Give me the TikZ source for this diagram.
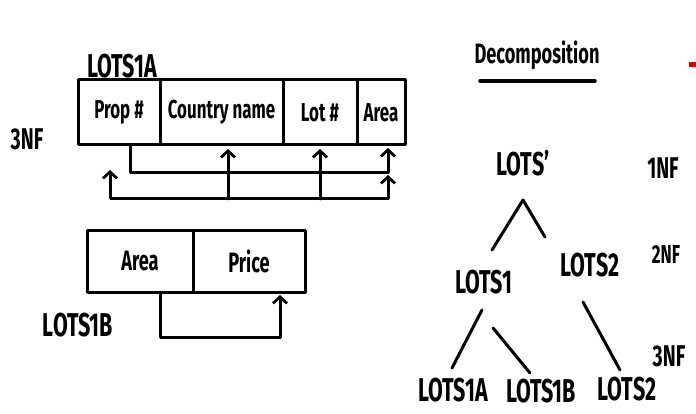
\documentclass[tikz,border=0pt]{standalone}
\usepackage{fontspec}
\setmainfont{Fira Sans}[FakeStretch=0.65]
\usetikzlibrary{arrows.meta,calc}
\newcommand{\hfs}[1]{\fontsize{#1}{#1}\selectfont\bfseries}
\begin{document}
\begin{tikzpicture}[x=1pt,y=-1pt,
  ink/.style={line width=3pt, line cap=round, line join=round},
  cell/.style={draw, ink, anchor=north west, outer sep=0pt, minimum height=65pt, inner sep=0pt, font=\hfs{26}},
  cellb/.style={cell, minimum height=61pt, font=\hfs{28}},
  lbl/.style={inner sep=1pt, font=\hfs{33}},
  nf/.style={inner sep=1pt, font=\hfs{30}},
  tip/.tip={Straight Barb[length=6.5pt,width=14pt,line width=2.8pt]},
  arr/.style={ink, -tip},
  arrboth/.style={ink, tip-tip},
]
\useasboundingbox (0,0) rectangle (696,414);

% ---- LOTS1A table ----
\node[lbl] (t1a) at (122,66) {LOTS1A};
\node[nf] (nf3a) at (27,139) {3NF};
\node[cell, minimum width=82pt] (c1) at (78,80) {Prop \#};
\node[cell, minimum width=123pt] (c2) at (c1.north east) {Country name};
\node[cell, minimum width=74pt] (c3) at (c2.north east) {Lot \#};
\node[cell, minimum width=48pt] (c4) at (c3.north east) {Area};

\coordinate (l1) at (0,173);
\coordinate (l2) at (0,199);
\coordinate (q) at (110,170);

\draw[arr, shorten >=3pt] ([xshift=11pt]c1.south) -- ([xshift=11pt]c1.south |- l1) -| ([xshift=7pt]c4.south);
\draw[arr, shorten >=4pt] ([xshift=6.5pt]c2.south |- l2) -- ([xshift=6.5pt]c2.south);
\draw[arr, shorten >=4pt] (c3.south |- l2) -- (c3.south);
\draw[arrboth, shorten >=2pt] (q) |- ([xshift=7pt]c4.south |- l2) -- ([xshift=7pt]c4.south |- l1);

% ---- LOTS1B table ----
\node[cellb, minimum width=106pt] (d1) at (87,231) {Area};
\node[cellb, minimum width=112pt] (d2) at (d1.north east) {Price};
\node[lbl] (t1b) at (78,325) {LOTS1B};
\draw[arr, shorten >=3pt] ([xshift=20pt]d1.south) -- ++(0,45) -| ([xshift=31pt]d2.south);

% ---- Decomposition ----
\node[inner sep=1pt, font=\hfs{28}] (dec) at (537,55) {Decomposition};
\draw[ink, line width=3.5pt] (480,81) -- (595,81);
\fill[red!85!black] (689,62) rectangle (696,67);

\node[lbl] (lots) at (523,163) {LOTS'};
\node[nf] (nf1) at (663,168) {1NF};
\node[lbl] (lots1) at (484,282) {LOTS1};
\node[lbl] (lots2) at (590,265) {LOTS2};
\node[nf, font=\hfs{26}] (nf2) at (666,254) {2NF};
\node[lbl] (lots1a) at (453,390) {LOTS1A};
\node[lbl] (lots1b) at (541,391) {LOTS1B};
\node[lbl] (lots2b) at (627,389) {LOTS2};
\node[nf] (nf3b) at (669,356) {3NF};

\coordinate (apex) at (523,200);
\coordinate (e1) at (492,250);
\coordinate (e2) at (545,237);
\draw[ink] (e1) -- (apex) -- (e2);
\coordinate (a1) at (482,310);
\coordinate (a2) at (452,368);
\coordinate (b1) at (493,328);
\coordinate (b2) at (530,373);
\coordinate (c1a) at (583,302);
\coordinate (c2a) at (620,370);
\draw[ink] (a1) -- (a2);
\draw[ink] (b1) -- (b2);
\draw[ink] (c1a) -- (c2a);
\end{tikzpicture}
\end{document}
